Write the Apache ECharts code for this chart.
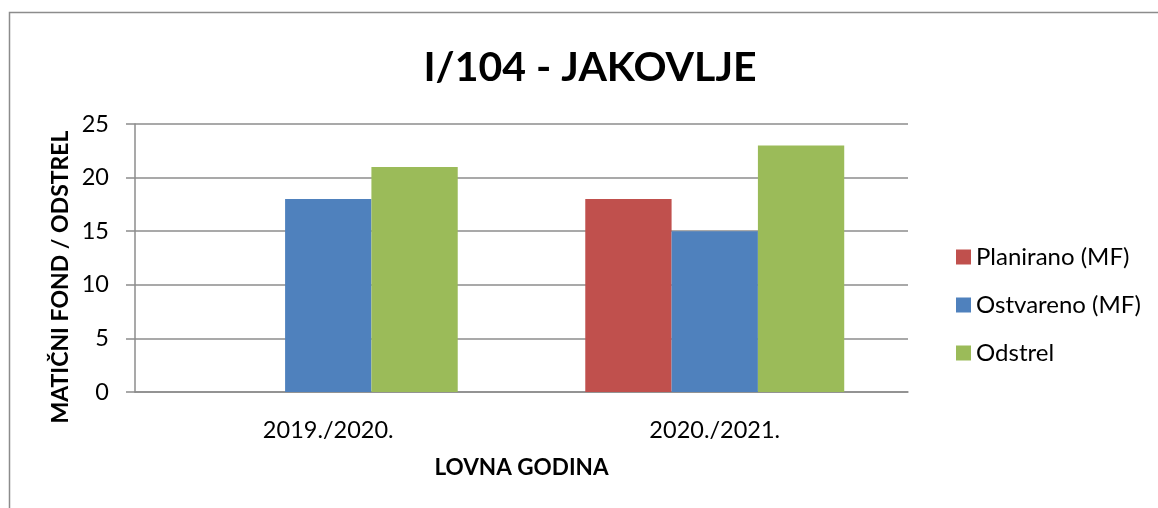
<!DOCTYPE html>
<html>
<head>
<meta charset="utf-8">
<script src="https://cdn.jsdelivr.net/npm/echarts@6/dist/echarts.min.js"></script>
<style>
  html, body { margin: 0; padding: 0; background: #fff; }
  #main { width: 1158px; height: 508px; }
</style>
</head>
<body>
<div id="main"></div>
<script>
var titleText = "I/104 - JAKOVLJE";
var seasons = ["2019./2020.", "2020./2021."];
var planirano = [null, 18];
var ostvareno = [18, 15];
var odstrel = [21, 23];
var seriesNames = ["Planirano (MF)", "Ostvareno (MF)", "Odstrel"];
var colors = ["#C0504D", "#4F81BD", "#9BBB59"];

var font = "Lato";
var myChart = echarts.init(document.getElementById('main'));

var option = {
    animation: false,
    backgroundColor: '#fff',
    color: colors,
    title: {
        text: titleText,
        left: 585,
        textAlign: 'center',
        top: 42,
        textStyle: {
            fontFamily: font,
            fontWeight: 'bold',
            fontSize: 41,
            color: '#000'
        }
    },
    legend: {
        orient: 'vertical',
        left: 951,
        top: 240,
        itemWidth: 15,
        itemHeight: 15,
        itemGap: 24,
        itemStyle: { borderWidth: 0 },
        icon: 'rect',
        textStyle: {
            fontFamily: font,
            fontSize: 24,
            color: '#000'
        },
        data: seriesNames
    },
    grid: {
        left: 135,
        right: 250,
        top: 124,
        bottom: 116
    },
    xAxis: {
        type: 'category',
        data: seasons,
        name: 'LOVNA GODINA',
        nameLocation: 'middle',
        nameGap: 64,
        nameTextStyle: {
            fontFamily: font,
            fontWeight: 'bold',
            fontSize: 22.5,
            color: '#000'
        },
        axisLine: { lineStyle: { color: '#8c8c8c', width: 1.5 } },
        axisTick: { alignWithLabel: true, length: 7, lineStyle: { color: '#8c8c8c', width: 1.5 } },
        axisLabel: {
            margin: 26,
            fontFamily: font,
            fontSize: 23.5,
            color: '#000'
        }
    },
    yAxis: {
        type: 'value',
        min: 0,
        max: 25,
        interval: 5,
        axisLine: { show: true, lineStyle: { color: '#8c8c8c', width: 1.5 } },
        axisTick: { show: true, length: 9, lineStyle: { color: '#8c8c8c', width: 1.5 } },
        splitLine: { lineStyle: { color: '#8c8c8c', width: 1.5 } },
        axisLabel: {
            margin: 26,
            fontFamily: font,
            fontSize: 23.5,
            color: '#000'
        }
    },
    graphic: [
        {
            type: 'rect',
            shape: { x: 9.5, y: 12.5, width: 1200, height: 600 },
            style: { fill: 'none', stroke: '#8c8c8c', lineWidth: 1.5 },
            silent: true
        },
        {
            type: 'text',
            x: 61,
            y: 277,
            rotation: Math.PI / 2,
            style: {
                text: 'MATIČNI FOND / ODSTREL',
                fontFamily: font,
                fontWeight: 'bold',
                fontSize: 23,
                fill: '#000',
                align: 'center',
                verticalAlign: 'middle'
            }
        }
    ],
    series: [
        { name: seriesNames[0], type: 'bar', data: planirano, barGap: 0, barCategoryGap: '33%' },
        { name: seriesNames[1], type: 'bar', data: ostvareno, barGap: 0, barCategoryGap: '33%' },
        { name: seriesNames[2], type: 'bar', data: odstrel, barGap: 0, barCategoryGap: '33%' }
    ]
};
myChart.setOption(option);
</script>
</body>
</html>
